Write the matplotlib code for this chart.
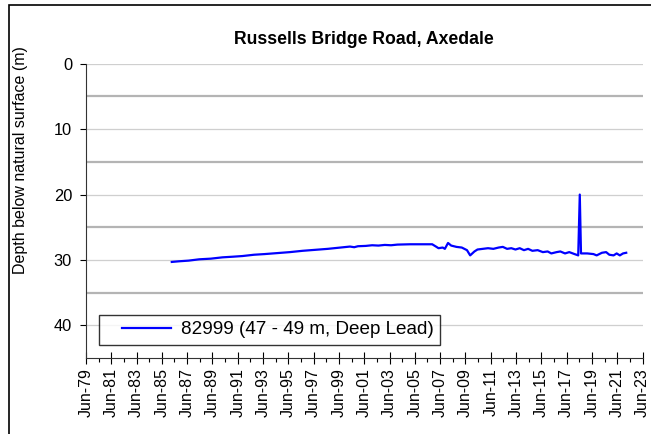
import matplotlib.pyplot as plt
import matplotlib.dates as mdates
from matplotlib.patches import Rectangle
from matplotlib.legend_handler import HandlerLine2D
import numpy as np
import pandas as pd

plt.rcParams['font.family'] = ['Liberation Sans', 'DejaVu Sans']

title = "Russells Bridge Road, Axedale"
ylabel = "Depth below natural surface (m)"
series_label = "82999 (47 - 49 m, Deep Lead)"

dates = ['1986-03-15', '1986-10-15', '1987-07-15', '1988-05-15', '1989-04-15',
         '1990-03-15', '1991-01-15', '1991-10-15', '1992-09-15', '1993-07-15',
         '1994-07-15', '1995-07-15', '1996-07-15', '1997-07-15', '1998-07-15',
         '1999-04-15', '1999-10-15', '2000-04-15', '2000-08-15', '2000-12-01',
         '2001-07-15', '2002-01-15', '2002-07-15', '2003-01-15', '2003-07-15',
         '2004-01-15', '2005-01-15', '2006-01-15', '2006-10-15', '2007-02-15',
         '2007-04-15', '2007-08-15', '2007-10-15', '2008-01-15', '2008-04-15',
         '2008-09-15', '2009-02-15', '2009-07-15', '2009-10-15', '2010-02-15',
         '2010-05-15', '2010-10-15', '2011-03-15', '2011-08-15', '2012-01-15',
         '2012-05-15', '2012-09-15', '2013-01-15', '2013-05-15', '2013-09-15',
         '2014-01-15', '2014-05-15', '2014-09-15', '2015-02-15', '2015-07-15',
         '2015-12-01', '2016-03-15', '2016-08-15', '2016-12-01', '2017-04-15',
         '2017-08-15', '2018-01-15', '2018-05-01', '2018-06-15', '2018-07-20',
         '2019-01-15', '2019-07-15', '2019-10-15', '2020-03-15', '2020-07-15',
         '2020-10-15', '2021-02-15', '2021-05-15', '2021-08-15', '2021-11-15',
         '2022-02-15']
depth = [30.3, 30.2, 30.1, 29.9, 29.8,
         29.6, 29.5, 29.4, 29.2, 29.1,
         28.95, 28.8, 28.6, 28.45, 28.3,
         28.15, 28.05, 27.95, 28.05, 27.9,
         27.85, 27.75, 27.8, 27.7, 27.75,
         27.65, 27.6, 27.6, 27.6, 28.0,
         28.2, 28.1, 28.3, 27.4, 27.8,
         28.0, 28.1, 28.5, 29.3, 28.7,
         28.4, 28.3, 28.2, 28.3, 28.1,
         28.0, 28.3, 28.2, 28.4, 28.2,
         28.5, 28.3, 28.6, 28.5, 28.8,
         28.7, 29.0, 28.8, 28.7, 29.0,
         28.8, 29.1, 29.3, 20.0, 29.0,
         29.0, 29.1, 29.3, 28.9, 28.8,
         29.2, 29.3, 29.0, 29.3, 29.0,
         28.9]

major_years = list(range(1979, 2024, 2))
minor_years = list(range(1980, 2023, 2))


class LeftPadLine(HandlerLine2D):
    # legend line sample with some empty space on its left, like Excel does
    def get_xdata(self, legend, xdescent, ydescent, width, height, fontsize):
        x0 = -xdescent + 0.87 * fontsize
        x1 = -xdescent + width
        return np.array([x0, x1]), np.array([(x0 + x1) / 2])


x = pd.to_datetime(dates)

fig = plt.figure(figsize=(6.51, 4.34), dpi=100)
ax = fig.add_axes([0.132, 0.175, 0.855, 0.678])

# grid lines: lighter at tens, darker at fives
for v in [0, 10, 20, 30, 40]:
    ax.axhline(v, color='#cfcfcf', lw=0.9, zorder=0)
for v in [5, 15, 25, 35]:
    ax.axhline(v, color='#b4b4b4', lw=1.6, zorder=0)

line, = ax.plot(x, depth, color='#0000ff', lw=1.6, label=series_label)

ax.set_ylim(45, 0)
ax.set_yticks([0, 10, 20, 30, 40])
ax.set_xlim(pd.Timestamp('1979-06-01'), pd.Timestamp('2023-06-01'))
ax.set_xticks([mdates.date2num(pd.Timestamp(f'{y}-06-01')) for y in major_years])
ax.set_xticks([mdates.date2num(pd.Timestamp(f'{y}-06-01')) for y in minor_years], minor=True)
ax.xaxis.set_major_formatter(mdates.DateFormatter('%b-%y'))
ax.tick_params(axis='x', which='major', direction='inout', length=8, width=0.8,
               labelsize=11.5, labelrotation=90, pad=3)
ax.tick_params(axis='x', which='minor', direction='out', length=3, width=0.8)
ax.tick_params(axis='y', direction='out', length=4, width=0.8, labelsize=11.8, pad=6)

for s in ['top', 'right']:
    ax.spines[s].set_visible(False)
for s in ['left', 'bottom']:
    ax.spines[s].set_color('#333333')

ax.set_ylabel(ylabel, fontsize=11.5)
ax.yaxis.set_label_coords(-0.104, 0.673)
ax.set_title(title, fontsize=12.7, fontweight='bold', pad=14)

leg = ax.legend(handler_map={line: LeftPadLine()},
                loc='lower left', bbox_to_anchor=(0.023, 0.044), borderaxespad=0,
                fontsize=13.6, frameon=True, fancybox=False, handlelength=3.5,
                handletextpad=0.48, borderpad=0.35)
leg.get_frame().set_edgecolor('black')
leg.get_frame().set_linewidth(1.0)

fig.patches.append(Rectangle((0.014, -0.1), 1.2, 1.088, transform=fig.transFigure,
                             fill=False, edgecolor='black', lw=1.2))

fig.savefig('out.png', dpi=100)
